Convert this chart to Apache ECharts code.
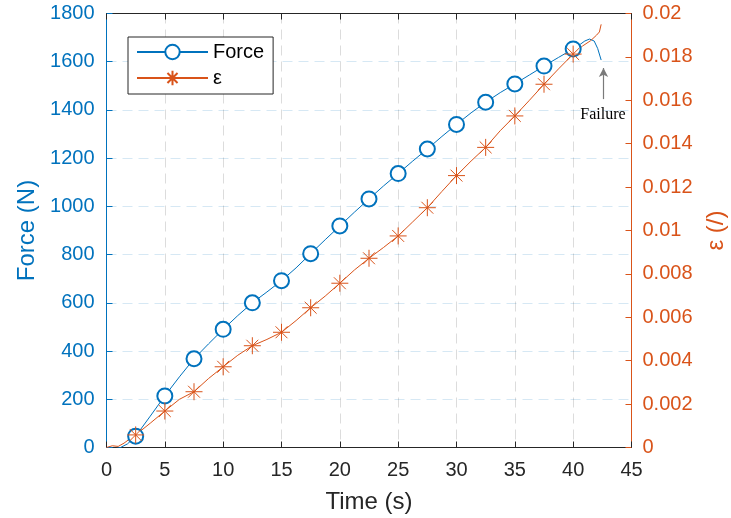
<!DOCTYPE html>
<html><head><meta charset="utf-8">
<script src="https://cdn.jsdelivr.net/npm/echarts@6/dist/echarts.min.js"></script>
<style>html,body{margin:0;padding:0;background:#fff}#c{width:731px;height:518px}</style>
</head><body><div id="c"></div>
<script>
// ---- data ----
const forceTime = [0,0.4,0.8,1.2,1.8,2.5,3.75,5,6.25,7.5,8.75,10,11.25,12.5,13.75,15,16.25,17.5,18.75,20,21.25,22.5,23.75,25,26.25,27.5,28.75,30,31.25,32.5,33.75,35,36.25,37.5,38.75,40,40.6,41.0,41.4,41.8,42.1,42.4];
const forceValues = [0,-3,-4,0,15,47,130,214,293,368,430,490,547,600,645,692,745,804,862,919,976,1031,1085,1136,1188,1238,1290,1340,1388,1432,1472,1508,1545,1582,1618,1653,1672,1686,1694,1686,1655,1607];
const strainTime = [0,0.5,1.0,1.5,2.0,2.5,3.75,5,6.25,7.5,8.75,10,11.25,12.5,13.75,15,16.25,17.5,18.75,20,21.25,22.5,23.75,25,26.25,27.5,28.75,30,31.25,32.5,33.75,35,36.25,37.5,38.75,40,40.8,41.5,42.0,42.25,42.4];
const strainValues = [0,0.00008,0.00005,0.0002,0.0004,0.00058,0.00112,0.00168,0.00222,0.00257,0.00318,0.00372,0.00425,0.00469,0.00498,0.00531,0.00585,0.00644,0.00698,0.00757,0.00818,0.00872,0.00922,0.00975,0.0104,0.01105,0.0118,0.01253,0.0132,0.01383,0.0146,0.01528,0.016,0.01674,0.01745,0.01813,0.0185,0.01875,0.019,0.01915,0.0195];
const markerTimes = [2.5,5,7.5,10,12.5,15,17.5,20,22.5,25,27.5,30,32.5,35,37.5,40];
const seriesNames = ['Force', 'ε'];
const failureArrow = [[42.6, 1445], [42.6, 1574]];
const failureText = [42.55, 1379];
const failureLabel = 'Failure';

const BLUE = '#0072BD', ORANGE = '#D95319', DARK = '#262626';
const FONT = 'Liberation Sans, Arial, sans-serif';
const asterisk = 'path://M10,0L10,20M0,10L20,10M3,3L17,17M3,17L17,3';

function build(times, vals) {
  return times.map((t, i) => markerTimes.includes(t)
    ? { value: [t, vals[i]] }
    : { value: [t, vals[i]], symbol: 'none' });
}

const chart = echarts.init(document.getElementById('c'), null, { renderer: 'canvas' });
chart.setOption({
  animation: false,
  backgroundColor: '#fff',
  grid: { left: 106.5, right: 99.5, top: 13.5, bottom: 70.5, outerBoundsMode: 'none' },
  legend: {
    data: seriesNames, orient: 'vertical', left: 128, top: 37,
    backgroundColor: '#fff', borderColor: DARK, borderWidth: 1, borderRadius: 0,
    padding: [5, 9, 6, 8], itemWidth: 71, itemHeight: 18, itemGap: 6,
    textStyle: { fontSize: 20, color: '#000', fontFamily: FONT }
  },
  xAxis: [{
    type: 'value', min: 0, max: 45, interval: 5, position: 'bottom',
    name: 'Time (s)', nameLocation: 'middle', nameGap: 43,
    nameTextStyle: { fontSize: 24, color: DARK, fontFamily: FONT },
    axisLine: { show: true, onZero: false, lineStyle: { color: DARK, width: 1 } },
    axisTick: { show: true, inside: true, length: 6, lineStyle: { color: DARK } },
    axisLabel: { fontSize: 20, color: DARK, fontFamily: FONT, margin: 13 },
    splitLine: { show: true, lineStyle: { color: 'rgba(38,38,38,0.16)', type: [10, 6], width: 1 } }
  }, {
    type: 'value', min: 0, max: 45, interval: 5, position: 'top',
    axisLine: { show: true, onZero: false, lineStyle: { color: DARK, width: 1 } },
    axisTick: { show: true, inside: true, length: 6, lineStyle: { color: DARK } },
    axisLabel: { show: false }, splitLine: { show: false }
  }],
  yAxis: [{
    type: 'value', min: 0, max: 1800, interval: 200, position: 'left',
    name: 'Force (N)', nameLocation: 'middle', nameGap: 51, nameRotate: 90,
    nameTextStyle: { fontSize: 24, color: BLUE, fontFamily: FONT },
    axisLine: { show: true, onZero: false, lineStyle: { color: BLUE, width: 1 } },
    axisTick: { show: true, inside: true, length: 6, lineStyle: { color: BLUE } },
    axisLabel: { fontSize: 20, color: BLUE, fontFamily: FONT, margin: 12,
      formatter: v => String(v) },
    splitLine: { show: true, lineStyle: { color: 'rgba(0,114,189,0.16)', type: [10, 6], width: 1 } }
  }, {
    type: 'value', min: 0, max: 0.02, interval: 0.002, position: 'right',
    name: 'ε (/)', nameLocation: 'middle', nameGap: 73, nameRotate: 90,
    nameTextStyle: { fontSize: 24, color: ORANGE, fontFamily: FONT },
    axisLine: { show: true, onZero: false, lineStyle: { color: ORANGE, width: 1 } },
    axisTick: { show: true, inside: true, length: 6, lineStyle: { color: ORANGE } },
    axisLabel: { fontSize: 20, color: ORANGE, fontFamily: FONT, margin: 11,
      formatter: v => String(+v.toFixed(4)) },
    splitLine: { show: false }
  }],
  series: [{
    name: seriesNames[0], type: 'line', xAxisIndex: 0, yAxisIndex: 0,
    data: build(forceTime, forceValues),
    symbol: 'emptyCircle', symbolSize: 15, showAllSymbol: true,
    itemStyle: { color: BLUE, borderColor: BLUE, borderWidth: 1 },
    lineStyle: { color: BLUE, width: 1 },
    markLine: {
      silent: true, symbol: ['none', 'arrow'], symbolSize: [7, 9],
      lineStyle: { color: '#7a7a7a', width: 1.2, type: 'solid' },
      label: { show: false },
      data: [[{ coord: failureArrow[0] }, { coord: failureArrow[1] }]]
    },
    markPoint: {
      silent: true, symbol: 'circle', symbolSize: 1,
      itemStyle: { color: 'rgba(0,0,0,0)' },
      label: { show: true, position: 'inside', formatter: failureLabel, color: '#000',
        fontSize: 16, fontFamily: 'Liberation Serif, Times New Roman, serif' },
      data: [{ coord: failureText }]
    }
  }, {
    name: seriesNames[1], type: 'line', xAxisIndex: 0, yAxisIndex: 1,
    data: build(strainTime, strainValues),
    symbol: asterisk, symbolSize: 17, showAllSymbol: true,
    itemStyle: { color: ORANGE, borderColor: ORANGE, borderWidth: 1 },
    lineStyle: { color: ORANGE, width: 1 }
  }]
});
</script></body></html>
